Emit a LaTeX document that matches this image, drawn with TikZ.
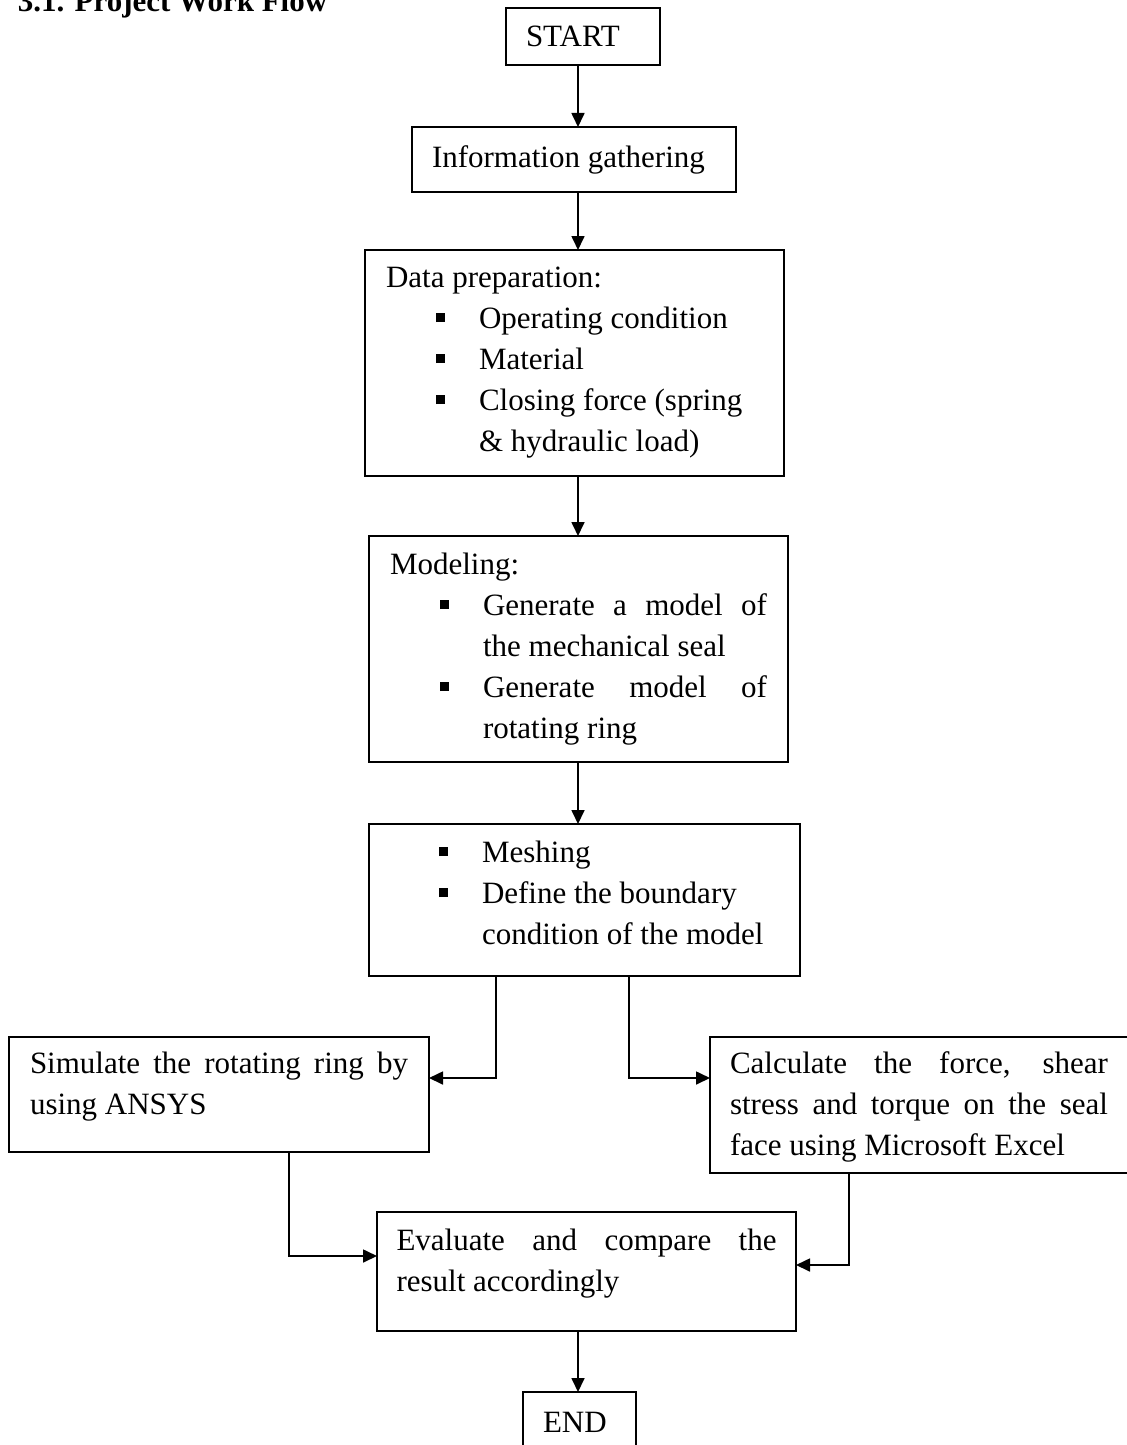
\documentclass[tikz,border=0pt]{standalone}
\usepackage{fontspec}
\setmainfont{Liberation Serif}
\usepackage{tikz}
\usetikzlibrary{shapes, arrows.meta}

\newcommand{\sqitem}[1]{\par\hangindent=46.5pt\hangafter=1\noindent\strut\hspace*{25pt}\makebox[21.5pt][l]{\rule[3pt]{4.5pt}{4.5pt}}#1}
\newcommand{\flowtext}[4]{\vbox to #2{\hsize=#1\relax\parindent=0pt\parskip=0pt\vskip#3\vskip-\ht\strutbox#4\par\vfil}}

\begin{document}
\begin{tikzpicture}[x=0.5pt, y=-0.5pt, ->, line width=0.85pt, >={Triangle[length=7pt, width=6.5pt]},
		flowbox/.style={draw, shape=rectangle, anchor=north west, inner ysep=0pt, outer sep=0pt, font=\fontsize{15.5}{20.5}\selectfont}]
		\useasboundingbox (0,0) rectangle (1127,1445);
		\node (title) [anchor=base west, inner sep=0pt, font=\fontsize{15.5}{20.5}\selectfont\bfseries] at (17,12) {3.1. Project Work Flow};

		\node (start) [flowbox, inner xsep=10pt] at (506,8) {\flowtext{57pt}{28.5pt}{19.5pt}{\strut START}};
		\node (info) [flowbox, inner xsep=10pt] at (412,127) {\flowtext{142pt}{32.5pt}{20pt}{\strut Information gathering}};
		\node (data) [flowbox, inner xsep=10.5pt] at (365,250) {\flowtext{188.5pt}{113pt}{18.5pt}{%
			\strut Data preparation:
			\sqitem{Operating condition}
			\sqitem{Material}
			\sqitem{Closing force (spring\newline \& hydraulic load)}}};
		\node (model) [flowbox, inner xsep=10.5pt] at (369,536) {\flowtext{188.5pt}{113pt}{19pt}{%
			\strut Modeling:
			\sqitem{Generate a model of\linebreak the mechanical seal}
			\sqitem{Generate model of\linebreak rotating ring}}};
		\node (mesh) [flowbox, inner xsep=10pt] at (369,824) {\flowtext{195.5pt}{76pt}{19pt}{%
			\sqitem{Meshing}
			\sqitem{Define the boundary\newline condition of the model}}};
		\node (sim) [flowbox, inner xsep=10.5pt] at (9,1037) {\flowtext{189pt}{57.5pt}{18pt}{%
			\strut Simulate the rotating ring by\linebreak using ANSYS}};
		\node (calc) [flowbox, inner xsep=10pt] at (710,1037) {\flowtext{189pt}{68pt}{18pt}{%
			\strut Calculate the force, shear\linebreak stress and torque on the seal\linebreak face using Microsoft Excel}};
		\node (eval) [flowbox, inner xsep=9.75pt] at (377,1212) {\flowtext{190pt}{59.5pt}{19pt}{%
			\strut Evaluate and compare the\linebreak result accordingly}};
		\node (end) [flowbox, inner xsep=10pt] at (523,1392) {\flowtext{36.5pt}{30pt}{20pt}{\strut END}};

		\coordinate (spine) at (578,0);
		\coordinate (meshL) at (496,1078);
		\coordinate (meshR) at (629,1078);
		\coordinate (simB) at (289,1256);
		\coordinate (calcB) at (849,1265);

		\draw (start.south -| spine) -- (info.north -| spine);
		\draw (info.south -| spine) -- (data.north -| spine);
		\draw (data.south -| spine) -- (model.north -| spine);
		\draw (model.south -| spine) -- (mesh.north -| spine);
		\draw (mesh.south -| meshL) |- (sim.east |- meshL);
		\draw (mesh.south -| meshR) |- (calc.west |- meshR);
		\draw (sim.south -| simB) |- (eval.west |- simB);
		\draw (calc.south -| calcB) |- (eval.east |- calcB);
		\draw (eval.south -| spine) -- (end.north -| spine);
\end{tikzpicture}
\end{document}
